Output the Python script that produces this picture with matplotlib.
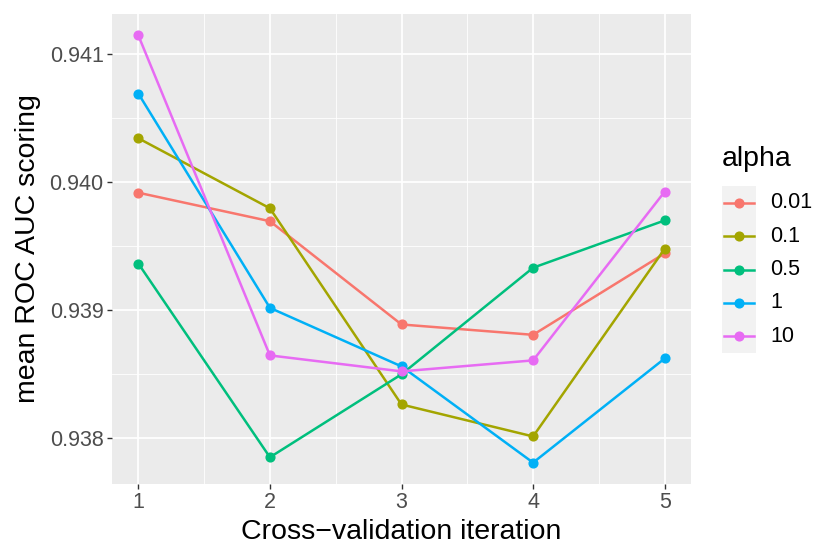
import matplotlib
matplotlib.use("Agg")
import matplotlib.pyplot as plt
import numpy as np

plt.rcParams["font.family"] = ["Liberation Sans", "DejaVu Sans"]

iterations = [1, 2, 3, 4, 5]
alphas = ["0.01", "0.1", "0.5", "1", "10"]
colors = ["#F8766D", "#A3A500", "#00BF7D", "#00B0F6", "#E76BF3"]

auc_001 = [0.939917, 0.939694, 0.938886, 0.938805, 0.939442]
auc_01 = [0.940343, 0.939795, 0.938260, 0.938010, 0.939478]
auc_05 = [0.939363, 0.937847, 0.938496, 0.939330, 0.939700]
auc_1 = [0.940693, 0.939016, 0.938558, 0.937805, 0.938620]
auc_10 = [0.941148, 0.938644, 0.938519, 0.938605, 0.939925]
series = [auc_001, auc_01, auc_05, auc_1, auc_10]

W, H = 814, 545
fig = plt.figure(figsize=(W / 100, H / 100), dpi=100)
ax = fig.add_axes([112 / W, 61 / H, 579 / W, 470 / H])
ax.set_facecolor("#EBEBEB")

for vals, col in zip(series, colors):
    ax.plot(iterations, vals, color=col, lw=1.8, marker="o", ms=6.3, zorder=3)

ax.set_xticks(iterations)
ax.set_yticks([0.938, 0.939, 0.940, 0.941])
ax.set_yticklabels(["0.938", "0.939", "0.940", "0.941"])
ax.set_xticks([1.5, 2.5, 3.5, 4.5], minor=True)
ax.set_yticks([0.9375, 0.9385, 0.9395, 0.9405], minor=True)

# ggplot-like 5% expansion (set after ticks so they don't widen the view)
allv = np.concatenate(series)
rng = allv.max() - allv.min()
ax.set_ylim(allv.min() - 0.05 * rng, allv.max() + 0.05 * rng)
ax.set_xlim(0.8, 5.2)

ax.grid(which="major", color="white", lw=1.25)
ax.grid(which="minor", color="white", lw=0.6)
ax.set_axisbelow(True)
for s in ax.spines.values():
    s.set_visible(False)
ax.tick_params(which="major", length=3.5, width=1.0, color="#333333",
               labelcolor="#4D4D4D", labelsize=15.5, pad=2.5)
ax.tick_params(which="minor", length=0)

ax.set_xlabel("Cross\u2212validation iteration", fontsize=20.5, color="black")
ax.set_ylabel("mean ROC AUC scoring", fontsize=20.5, color="black")
ax.xaxis.set_label_coords(0.5, (26 - 61) / 470)
ax.yaxis.set_label_coords((41 - 112) / 579, 0.5)

# legend drawn as its own small panel
lax = fig.add_axes([722 / W, (H - 353) / H, 34 / W, 167 / H])
lax.set_facecolor("#F2F2F2")
lax.set_xlim(0, 1)
lax.set_ylim(len(alphas), 0)
for i, (lab, col) in enumerate(zip(alphas, colors)):
    lax.plot([0.05, 0.95], [i + 0.5, i + 0.5], color=col, lw=1.8)
    lax.plot([0.5], [i + 0.5], color=col, marker="o", ms=6.3)
    lax.text(1.43, i + 0.5, lab, fontsize=15.5, va="center", ha="left",
             color="black")
lax.text(0.0, -0.8, "alpha", fontsize=20.5, va="center", ha="left",
         color="black")
lax.set_xticks([])
lax.set_yticks([])
for s in lax.spines.values():
    s.set_visible(False)

fig.savefig("out.png", dpi=100, facecolor="white")
